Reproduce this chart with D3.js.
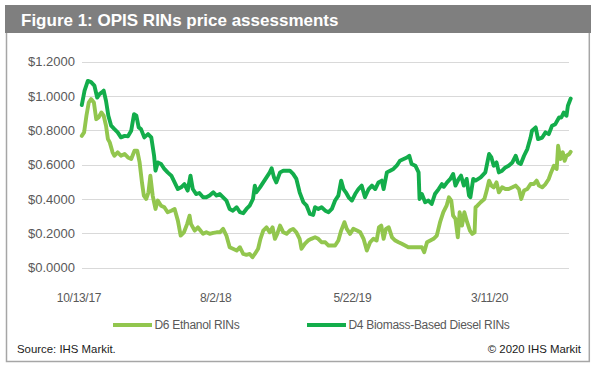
<!DOCTYPE html>
<html>
<head>
<meta charset="utf-8">
<script src="https://cdn.jsdelivr.net/npm/d3@7"></script>
<style>
  html, body { margin: 0; padding: 0; background: #ffffff; }
  svg { display: block; font-family: "Liberation Sans", Arial, sans-serif; }
</style>
</head>
<body>
<svg id="chart" width="597" height="367"></svg>
<script>
const titleText = "Figure 1: OPIS RINs price assessments";
const sourceText = "Source: IHS Markit.";
const copyrightText = "\u00A9 2020 IHS Markit";
const seriesNames = ["D6 Ethanol RINs", "D4 Biomass-Based Diesel RINs"];
const xTickLabels = ["10/13/17", "8/2/18", "5/22/19", "3/11/20"];
const yTickValues = [0, 0.2, 0.4, 0.6, 0.8, 1.0, 1.2];

const d6Dates = ["2017-10-20","2017-10-25","2017-10-30","2017-11-04","2017-11-09","2017-11-15","2017-11-20","2017-11-25","2017-12-01","2017-12-06","2017-12-11","2017-12-15","2017-12-19","2017-12-25","2017-12-29","2018-01-05","2018-01-12","2018-01-20","2018-01-27","2018-02-03","2018-02-10","2018-02-16","2018-02-21","2018-02-26","2018-03-02","2018-03-07","2018-03-12","2018-03-16","2018-03-21","2018-03-27","2018-04-01","2018-04-08","2018-04-15","2018-04-22","2018-04-30","2018-05-07","2018-05-14","2018-05-20","2018-05-27","2018-06-03","2018-06-08","2018-06-11","2018-06-19","2018-06-26","2018-06-30","2018-07-07","2018-07-14","2018-07-21","2018-07-29","2018-08-05","2018-08-12","2018-08-19","2018-08-26","2018-09-02","2018-09-09","2018-09-17","2018-09-24","2018-10-01","2018-10-08","2018-10-15","2018-10-21","2018-10-26","2018-11-02","2018-11-07","2018-11-13","2018-11-20","2018-11-27","2018-12-03","2018-12-08","2018-12-13","2018-12-19","2018-12-26","2019-01-02","2019-01-09","2019-01-16","2019-01-23","2019-01-30","2019-02-03","2019-02-10","2019-02-17","2019-02-24","2019-03-04","2019-03-11","2019-03-18","2019-03-26","2019-04-02","2019-04-09","2019-04-16","2019-04-23","2019-04-29","2019-05-06","2019-05-11","2019-05-18","2019-05-25","2019-06-02","2019-06-09","2019-06-16","2019-06-23","2019-06-30","2019-07-07","2019-07-14","2019-07-19","2019-07-24","2019-07-29","2019-08-03","2019-08-09","2019-08-16","2019-08-23","2019-08-30","2019-09-06","2019-09-13","2019-09-20","2019-09-27","2019-10-05","2019-10-12","2019-10-19","2019-10-24","2019-10-30","2019-11-06","2019-11-13","2019-11-20","2019-11-27","2019-12-04","2019-12-11","2019-12-16","2019-12-21","2019-12-25","2019-12-30","2020-01-04","2020-01-08","2020-01-13","2020-01-18","2020-01-24","2020-01-30","2020-02-04","2020-02-09","2020-02-11","2020-02-15","2020-02-22","2020-03-01","2020-03-06","2020-03-11","2020-03-16","2020-03-21","2020-03-27","2020-04-01","2020-04-08","2020-04-15","2020-04-22","2020-04-30","2020-05-07","2020-05-14","2020-05-19","2020-05-25","2020-06-01","2020-06-08","2020-06-15","2020-06-21","2020-06-26","2020-07-03","2020-07-10","2020-07-17","2020-07-22","2020-07-28","2020-08-03","2020-08-06","2020-08-11","2020-08-16","2020-08-20","2020-08-24","2020-08-30","2020-09-02"];
const d6Values = [0.767,0.787,0.884,0.961,0.981,0.961,0.864,0.874,0.903,0.884,0.826,0.748,0.729,0.671,0.651,0.671,0.651,0.661,0.641,0.632,0.68,0.68,0.612,0.496,0.419,0.399,0.438,0.535,0.419,0.341,0.39,0.36,0.351,0.322,0.331,0.341,0.273,0.186,0.205,0.254,0.302,0.254,0.215,0.234,0.22,0.196,0.205,0.196,0.202,0.205,0.205,0.225,0.186,0.118,0.109,0.099,0.118,0.079,0.074,0.079,0.06,0.079,0.109,0.167,0.215,0.234,0.205,0.234,0.167,0.196,0.244,0.205,0.196,0.215,0.225,0.205,0.167,0.109,0.138,0.157,0.167,0.176,0.167,0.147,0.147,0.128,0.128,0.128,0.157,0.215,0.264,0.225,0.196,0.225,0.215,0.205,0.167,0.099,0.147,0.167,0.157,0.234,0.244,0.167,0.225,0.234,0.176,0.157,0.147,0.138,0.128,0.118,0.118,0.118,0.118,0.118,0.089,0.147,0.157,0.167,0.186,0.264,0.322,0.36,0.409,0.39,0.302,0.283,0.176,0.322,0.244,0.322,0.264,0.215,0.196,0.205,0.351,0.36,0.38,0.399,0.448,0.506,0.477,0.467,0.496,0.438,0.467,0.457,0.457,0.467,0.477,0.457,0.399,0.448,0.457,0.486,0.486,0.506,0.477,0.467,0.486,0.516,0.554,0.593,0.574,0.709,0.632,0.671,0.622,0.651,0.661,0.674];

const d4Dates = ["2017-10-20","2017-10-26","2017-11-02","2017-11-09","2017-11-16","2017-11-22","2017-11-27","2017-12-02","2017-12-06","2017-12-11","2017-12-16","2017-12-22","2017-12-29","2018-01-05","2018-01-12","2018-01-20","2018-01-27","2018-02-03","2018-02-09","2018-02-14","2018-02-19","2018-02-24","2018-03-03","2018-03-11","2018-03-18","2018-03-24","2018-03-27","2018-04-01","2018-04-08","2018-04-15","2018-04-22","2018-04-30","2018-05-07","2018-05-14","2018-05-21","2018-05-28","2018-06-04","2018-06-10","2018-06-15","2018-06-22","2018-06-29","2018-07-07","2018-07-14","2018-07-21","2018-07-29","2018-08-05","2018-08-12","2018-08-19","2018-08-26","2018-09-02","2018-09-09","2018-09-17","2018-09-24","2018-10-01","2018-10-08","2018-10-15","2018-10-22","2018-10-26","2018-10-29","2018-11-06","2018-11-13","2018-11-20","2018-11-27","2018-12-01","2018-12-06","2018-12-11","2018-12-19","2018-12-26","2019-01-02","2019-01-09","2019-01-16","2019-01-23","2019-01-30","2019-02-07","2019-02-14","2019-02-21","2019-02-28","2019-03-04","2019-03-11","2019-03-18","2019-03-26","2019-04-02","2019-04-09","2019-04-16","2019-04-23","2019-04-29","2019-05-04","2019-05-09","2019-05-15","2019-05-22","2019-05-29","2019-06-05","2019-06-12","2019-06-19","2019-06-27","2019-07-04","2019-07-11","2019-07-18","2019-07-25","2019-07-29","2019-08-05","2019-08-12","2019-08-19","2019-08-26","2019-09-02","2019-09-10","2019-09-17","2019-09-22","2019-09-27","2019-10-05","2019-10-12","2019-10-14","2019-10-19","2019-10-26","2019-11-02","2019-11-09","2019-11-16","2019-11-24","2019-12-01","2019-12-05","2019-12-12","2019-12-19","2019-12-25","2019-12-30","2020-01-06","2020-01-11","2020-01-17","2020-01-23","2020-01-28","2020-01-31","2020-02-06","2020-02-11","2020-02-22","2020-03-03","2020-03-11","2020-03-16","2020-03-21","2020-03-27","2020-04-01","2020-04-08","2020-04-15","2020-04-22","2020-04-30","2020-05-07","2020-05-12","2020-05-18","2020-05-25","2020-06-01","2020-06-08","2020-06-11","2020-06-19","2020-06-24","2020-07-03","2020-07-10","2020-07-17","2020-07-24","2020-07-31","2020-08-08","2020-08-13","2020-08-18","2020-08-24","2020-08-27","2020-09-02"];
const d4Values = [0.946,1.03,1.087,1.08,1.06,0.99,1.01,1.02,1.03,0.97,0.884,0.826,0.806,0.787,0.758,0.767,0.764,0.797,0.893,0.884,0.816,0.806,0.758,0.777,0.758,0.651,0.564,0.612,0.603,0.574,0.554,0.535,0.496,0.457,0.467,0.486,0.448,0.535,0.457,0.428,0.434,0.409,0.409,0.419,0.438,0.419,0.428,0.409,0.39,0.341,0.331,0.351,0.322,0.316,0.341,0.36,0.399,0.477,0.438,0.467,0.496,0.525,0.554,0.578,0.525,0.496,0.554,0.564,0.564,0.564,0.545,0.516,0.438,0.38,0.36,0.312,0.306,0.351,0.341,0.351,0.331,0.322,0.341,0.39,0.419,0.506,0.457,0.438,0.409,0.39,0.428,0.457,0.477,0.409,0.457,0.477,0.457,0.496,0.506,0.457,0.554,0.564,0.574,0.593,0.622,0.632,0.641,0.651,0.603,0.593,0.554,0.399,0.428,0.38,0.39,0.37,0.428,0.457,0.486,0.47,0.496,0.516,0.545,0.477,0.516,0.535,0.477,0.516,0.419,0.409,0.516,0.506,0.525,0.554,0.661,0.641,0.593,0.612,0.554,0.564,0.583,0.593,0.612,0.651,0.612,0.603,0.651,0.69,0.757,0.797,0.816,0.748,0.757,0.787,0.777,0.826,0.835,0.874,0.874,0.903,0.884,0.942,0.984];

const colors = ["#92C64E", "#13AD4B"];

const parseDate = d3.timeParse("%Y-%m-%d");
const parseTick = d3.timeParse("%m/%d/%y");

const svg = d3.select("#chart");

// frame
svg.append("rect").attr("x", 6.5).attr("y", 20).attr("width", 582.8).attr("height", 341.5)
  .attr("fill", "#ffffff").attr("stroke", "#a6a6a6").attr("stroke-width", 1.5);
svg.append("rect").attr("x", 5).attr("y", 5).attr("width", 586).attr("height", 28).attr("fill", "#7f7f7f");
svg.append("text").attr("x", 21).attr("y", 26).text(titleText)
  .attr("fill", "#ffffff").attr("font-weight", "bold").attr("font-size", "17px");

const x = d3.scaleTime()
  .domain([parseDate("2017-10-13"), parseDate("2020-09-02")])
  .range([78.5, 570.7]);
const y = d3.scaleLinear().domain([0, 1.2]).range([267.5, 61.5]);

// gridlines
svg.append("g").selectAll("line").data(yTickValues).join("line")
  .attr("x1", 82).attr("x2", 569)
  .attr("y1", d => Math.round(y(d)) + 0.5).attr("y2", d => Math.round(y(d)) + 0.5)
  .attr("stroke", "#d9d9d9").attr("stroke-width", 1);

// y axis
const yAxis = svg.append("g").attr("transform", "translate(82,0)")
  .call(d3.axisLeft(y).tickValues(yTickValues).tickSize(0).tickPadding(7).tickFormat(d3.format("$.4f")));
yAxis.select(".domain").remove();
yAxis.selectAll("text").attr("fill", "#595959").attr("font-size", "13px")
  .attr("font-family", "'Liberation Sans', Arial, sans-serif");

// x axis
const xAxis = svg.append("g").attr("transform", "translate(0,268)")
  .call(d3.axisBottom(x).tickValues(xTickLabels.map(parseTick)).tickSize(0).tickPadding(25)
    .tickFormat((d, i) => xTickLabels[i]));
xAxis.select(".domain").remove();
xAxis.selectAll("text").attr("fill", "#595959").attr("font-size", "12px").attr("letter-spacing", "-0.3px")
  .attr("font-family", "'Liberation Sans', Arial, sans-serif");

// lines
const series = [
  { name: seriesNames[0], dates: d6Dates, values: d6Values, color: colors[0] },
  { name: seriesNames[1], dates: d4Dates, values: d4Values, color: colors[1] }
];
const line = d3.line().x(d => x(d[0])).y(d => y(d[1])).curve(d3.curveLinear);
series.forEach(s => {
  const pts = s.dates.map((dt, i) => [parseDate(dt), s.values[i]]);
  svg.append("path").datum(pts).attr("d", line)
    .attr("fill", "none").attr("stroke", s.color).attr("stroke-width", 3.9)
    .attr("stroke-linejoin", "round").attr("stroke-linecap", "round");
});

// legend
const legendX = [113, 307];
series.forEach((s, i) => {
  const g = svg.append("g").attr("transform", `translate(${legendX[i]},325)`);
  g.append("line").attr("x1", 0).attr("x2", 39).attr("y1", 0).attr("y2", 0)
    .attr("stroke", s.color).attr("stroke-width", 4);
  g.append("text").attr("x", 41.5).attr("y", 4.3).text(s.name)
    .attr("fill", "#595959").attr("font-size", "12px").attr("letter-spacing", "-0.3px");
});

// footer
svg.append("text").attr("x", 17).attr("y", 353).text(sourceText)
  .attr("fill", "#1a1a1a").attr("font-size", "11.4px");
svg.append("text").attr("x", 581).attr("y", 353).attr("text-anchor", "end").text(copyrightText)
  .attr("fill", "#1a1a1a").attr("font-size", "11.4px");
</script>
</body>
</html>
